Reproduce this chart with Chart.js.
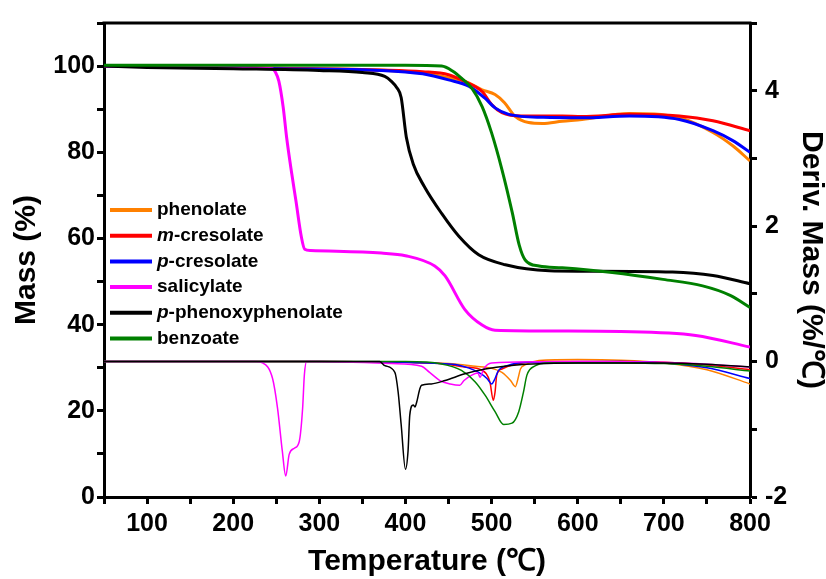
<!DOCTYPE html>
<html>
<head>
<meta charset="utf-8">
<script src="https://cdn.jsdelivr.net/npm/chart.js"></script>
<style>
  html, body { margin: 0; padding: 0; background: #fff; }
  canvas { display: block; }
</style>
</head>
<body>
<canvas id="tga" width="826" height="579"></canvas>
<script>
// TGA / DTG curves. Mass on the left axis, derivative on the right one.
const seriesNames = ['phenolate', 'm-cresolate', 'p-cresolate', 'salicylate', 'p-phenoxyphenolate', 'benzoate'];
const seriesColors = ['#ff8000', '#ff0000', '#0000ff', '#ff00ff', '#000000', '#008000'];

// mass (%)
const phenolateT = [50, 150, 250, 350, 420, 450, 470, 489, 504, 515, 527, 543, 559, 582, 605, 660, 718, 757, 780, 800];
const phenolateMass = [100, 99.8, 99.5, 99.2, 98.4, 97.3, 96.4, 94.5, 93.4, 91.5, 88.4, 86.9, 86.7, 87.2, 87.6, 89, 88, 84.6, 81.5, 78];
const mCresolateT = [50, 150, 250, 372, 420, 450, 469, 489, 500, 512, 535, 582, 605, 660, 718, 757, 800];
const mCresolateMass = [100, 99.8, 99.5, 99.1, 98.7, 98, 96.4, 94.1, 91.1, 89.2, 88.4, 88.4, 88.3, 88.8, 88.4, 87.3, 85];
const pCresolateT = [50, 150, 250, 372, 420, 450, 474, 492, 504, 520, 560, 605, 660, 718, 757, 780, 800];
const pCresolateMass = [100, 99.8, 99.4, 99.0, 98.2, 96.8, 95.3, 92.6, 90.3, 88.8, 88.1, 88, 88.4, 87.6, 85, 82.7, 80];
const salicylateT = [50, 150, 230, 245, 249, 253, 258, 262, 268, 273, 279, 283, 290, 372, 400, 434, 446, 469, 489, 504, 582, 650, 737, 800];
const salicylateMass = [100, 99.8, 99.5, 99.4, 98.6, 96.5, 90.5, 83.5, 75, 68.5, 60.5, 57.5, 57.2, 56.6, 56, 53.6, 51.3, 43.5, 39.9, 38.7, 38.5, 38.4, 37.5, 34.8];
const phenoxyT = [50, 100, 200, 300, 350, 376, 384, 390, 395, 401, 409, 422, 442, 462, 485, 516, 567, 605, 710, 757, 800];
const phenoxyMass = [100, 99.7, 99.4, 99.0, 98.5, 97.6, 96.4, 95, 92.7, 83.5, 77.3, 72, 65.8, 60.5, 56.2, 53.9, 52.5, 52.4, 52.2, 51.4, 49.5];
const benzoateT = [50, 200, 400, 442, 455, 465, 477, 489, 500, 512, 524, 532, 539, 555, 582, 640, 699, 745, 777, 800];
const benzoateMass = [100.2, 100.2, 100.2, 100, 98.8, 97.2, 94.9, 90.6, 84.5, 76, 66, 58.5, 55, 53.6, 53.2, 52.1, 50.5, 49, 46.8, 44];

// deriv. mass (%/℃)
const phenolateDT = [50, 300, 450, 481, 500, 512, 522, 527.6, 530.7, 533.5, 539, 555, 600, 650, 700, 750, 800];
const phenolateDeriv = [0, 0, -0.03, -0.07, -0.1, -0.16, -0.28, -0.37, -0.25, -0.11, -0.05, 0.015, 0.03, 0.02, -0.02, -0.12, -0.33];
const mCresolateDT = [50, 300, 440, 469, 489, 498, 502, 504, 506, 512, 524, 560, 650, 700, 750, 800];
const mCresolateDeriv = [0, 0, -0.03, -0.08, -0.13, -0.3, -0.57, -0.45, -0.2, -0.11, -0.05, 0, 0, -0.01, -0.05, -0.12];
const pCresolateDT = [50, 300, 440, 461, 485, 494.6, 500, 504, 508, 518, 540, 650, 700, 750, 800];
const pCresolateDeriv = [0, 0, -0.03, -0.05, -0.16, -0.25, -0.33, -0.25, -0.13, -0.06, -0.01, 0, -0.02, -0.09, -0.25];
const salicylateDT = [50, 225, 234, 245.7, 251.5, 257, 261, 265, 271, 276.7, 280.6, 282.6, 285.3, 383.7, 418.7, 428, 440, 452, 463, 468, 477, 484, 486.7, 490.7, 500, 600, 700, 800];
const salicylateDeriv = [0, 0, -0.02, -0.25, -0.69, -1.32, -1.69, -1.37, -1.28, -1.18, -0.69, -0.2, 0, -0.03, -0.07, -0.16, -0.28, -0.33, -0.35, -0.28, -0.2, -0.17, -0.23, -0.11, -0.02, 0, -0.01, -0.08];
const phenoxyDT = [50, 370, 376, 387.7, 391.5, 395, 400, 403, 405, 409, 411, 413, 416.7, 418.7, 430, 446, 469, 492.6, 520, 547, 600, 700, 750, 800];
const phenoxyDeriv = [0, 0, -0.06, -0.16, -0.45, -0.93, -1.59, -1.32, -0.79, -0.64, -0.67, -0.6, -0.4, -0.35, -0.33, -0.28, -0.18, -0.11, -0.06, -0.035, -0.02, -0.02, -0.04, -0.08];
const benzoateDT = [50, 400, 442, 465, 481, 492.6, 504, 514, 523.7, 531.5, 537, 541, 551, 562.6, 650, 700, 750, 800];
const benzoateDeriv = [0, 0, -0.035, -0.13, -0.3, -0.5, -0.74, -0.93, -0.91, -0.74, -0.45, -0.2, -0.06, -0.02, -0.02, -0.03, -0.07, -0.14];

const massSets = [
  [phenolateT, phenolateMass], [mCresolateT, mCresolateMass], [pCresolateT, pCresolateMass],
  [salicylateT, salicylateMass], [phenoxyT, phenoxyMass], [benzoateT, benzoateMass],
];
const derivSets = [
  [phenolateDT, phenolateDeriv], [mCresolateDT, mCresolateDeriv], [pCresolateDT, pCresolateDeriv],
  [salicylateDT, salicylateDeriv], [phenoxyDT, phenoxyDeriv], [benzoateDT, benzoateDeriv],
];

const FONT = "'Liberation Sans', Arial, sans-serif";
const pts = (xs, ys) => xs.map((x, i) => ({ x, y: ys[i] }));

const datasets = [];
// benzoate mass on top, then the rest
massSets.forEach(([t, m], i) => {
  datasets.push({
    label: seriesNames[i], data: pts(t, m), yAxisID: 'y',
    borderColor: seriesColors[i], borderWidth: 3, pointRadius: 0,
    cubicInterpolationMode: 'monotone', order: i === 5 ? 0 : 6 - i,
  });
});
derivSets.forEach(([t, d], i) => {
  datasets.push({
    label: seriesNames[i] + ' DTG', data: pts(t, d), yAxisID: 'y1',
    borderColor: seriesColors[i], borderWidth: 1.5, pointRadius: 0,
    cubicInterpolationMode: 'monotone', order: i === 4 ? 7 : 13 - i,
  });
});

// legend drawn inside the plot with italic m-/p- prefixes
const insideLegend = {
  id: 'insideLegend',
  afterDraw(chart) {
    const { ctx, chartArea } = chart;
    ctx.save();
    ctx.textBaseline = 'middle';
    seriesNames.forEach((name, i) => {
      const y = chartArea.top + 187 + i * 25.7;
      const x0 = chartArea.left + 6;
      ctx.strokeStyle = seriesColors[i];
      ctx.lineWidth = 4;
      ctx.beginPath();
      ctx.moveTo(x0, y);
      ctx.lineTo(x0 + 42, y);
      ctx.stroke();
      let x = x0 + 47;
      ctx.fillStyle = '#000';
      const m = name.match(/^([mp])(-.*)$/);
      if (m) {
        ctx.font = 'italic bold 19px ' + FONT;
        ctx.fillText(m[1], x, y);
        x += ctx.measureText(m[1]).width;
        ctx.font = 'bold 19px ' + FONT;
        ctx.fillText(m[2], x, y);
      } else {
        ctx.font = 'bold 19px ' + FONT;
        ctx.fillText(name, x, y);
      }
    });
    ctx.restore();
  },
};

// top frame line
const frame = {
  id: 'frame',
  afterDraw(chart) {
    const { ctx, chartArea } = chart;
    ctx.save();
    ctx.strokeStyle = '#000';
    ctx.lineWidth = 3;
    ctx.beginPath();
    ctx.moveTo(chartArea.left - 1.5, chartArea.top);
    ctx.lineTo(chartArea.right + 1.5, chartArea.top);
    ctx.stroke();
    ctx.restore();
  },
};

const tickFont = { family: FONT, size: 25, weight: 'bold' };
const titleFont = { family: FONT, size: 30, weight: 'bold', lineHeight: 1.0 };
const axisGrid = { drawOnChartArea: false, tickLength: 7, tickWidth: 3, tickColor: '#000' };
const axisBorder = { width: 3, color: '#000' };

new Chart(document.getElementById('tga'), {
  type: 'line',
  data: { datasets },
  plugins: [insideLegend, frame],
  options: {
    responsive: false,
    animation: false,
    layout: { padding: { top: 17, left: 0, right: 0, bottom: 0 } },
    plugins: { legend: { display: false }, tooltip: { enabled: false } },
    scales: {
      x: {
        type: 'linear', min: 50, max: 800,
        ticks: { stepSize: 50, autoSkip: false, maxRotation: 0, color: '#000', font: tickFont, padding: 5,
          callback: (v) => (v % 100 === 0 ? v : '') },
        grid: axisGrid, border: axisBorder,
        title: { display: true, text: 'Temperature (℃)', color: '#000', font: titleFont, padding: { top: 0, bottom: 2 } },
        afterFit: (s) => { s.height = 82; },
      },
      y: {
        position: 'left', min: 0, max: 110,
        ticks: { stepSize: 10, autoSkip: false, color: '#000', font: tickFont, padding: 2,
          callback: (v) => (v % 20 === 0 ? v : '') },
        grid: axisGrid, border: axisBorder,
        title: { display: true, text: 'Mass (%)', color: '#000', font: titleFont, padding: { top: 12, bottom: 0 } },
        afterFit: (s) => { s.width = 104; },
      },
      y1: {
        position: 'right', min: -2, max: 5,
        ticks: { stepSize: 1, autoSkip: false, color: '#000', font: tickFont, padding: 8,
          callback: (v) => (v % 2 === 0 ? v : '') },
        grid: axisGrid, border: axisBorder,
        title: { display: true, text: 'Deriv. Mass (%/℃)', color: '#000', font: titleFont, padding: { top: 0, bottom: 0 } },
        afterFit: (s) => { s.width = 76; },
      },
    },
  },
});
</script>
</body>
</html>
